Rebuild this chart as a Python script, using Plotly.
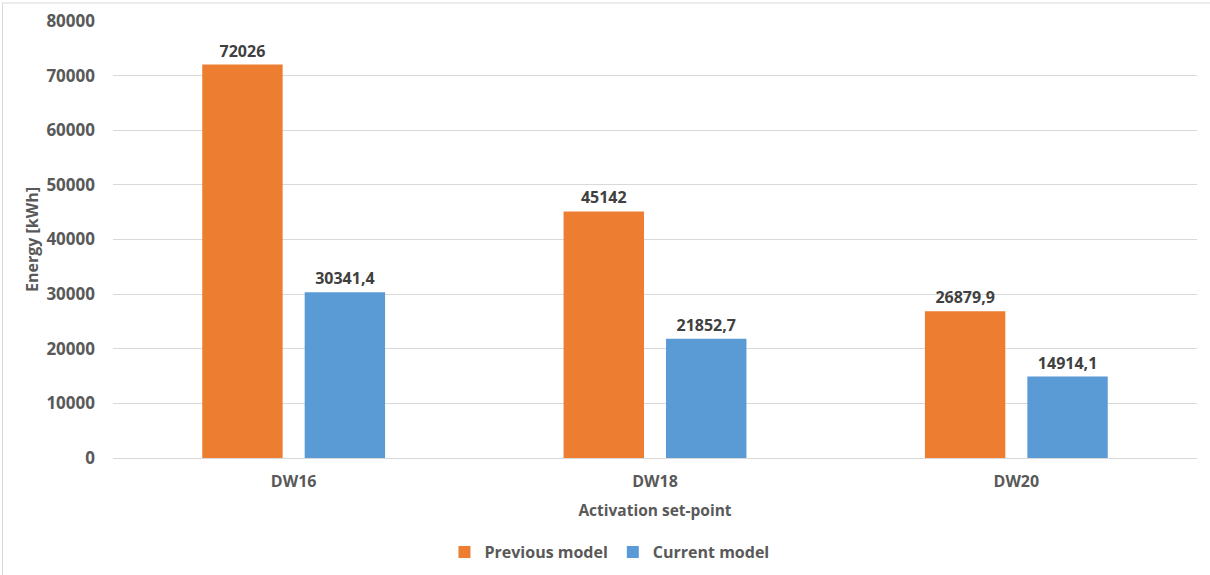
import plotly.graph_objects as go

# Energy use per activation set-point, two model versions
categories = ["DW16", "DW18", "DW20"]
previous_model = [72026, 45142, 26879.9]
current_model = [30341.4, 21852.7, 14914.1]
y_ticks = [0, 10000, 20000, 30000, 40000, 50000, 60000, 70000, 80000]


def fmt(v):
    # decimal comma, no thousands grouping
    return str(v).replace(".", ",")


W, H = 1210, 575
ML, MR, MT, MB = 113, 13, 21, 117
FONT = "Open Sans, Noto Sans, sans-serif"
GREY = "#595959"

fig = go.Figure()
fig.add_trace(go.Bar(
    name="Previous model", x=categories, y=previous_model,
    marker=dict(color="#ED7D31", line=dict(width=0)),
    text=[fmt(v) for v in previous_model], textposition="outside",
    textfont=dict(family=FONT, size=16, color="#404040", weight="bold"),
    cliponaxis=False,
))
fig.add_trace(go.Bar(
    name="Current model", x=categories, y=current_model,
    marker=dict(color="#5B9BD5", line=dict(width=0)),
    text=[fmt(v) for v in current_model], textposition="outside",
    textfont=dict(family=FONT, size=16, color="#404040", weight="bold"),
    cliponaxis=False,
))

pw = W - ML - MR
ph = H - MT - MB

fig.update_layout(
    width=W, height=H,
    margin=dict(l=ML, r=MR, t=MT, b=MB, autoexpand=False),
    paper_bgcolor="white", plot_bgcolor="white",
    barmode="group", bargap=0.433, bargroupgap=0.215,
    font=dict(family=FONT, color=GREY),
    showlegend=True,
    legend=dict(
        orientation="h", x=0.458, xanchor="center", y=-(552 - 458) / ph, yanchor="middle",
        font=dict(family=FONT, size=16, color=GREY, weight="bold"),
        itemwidth=30, traceorder="normal",
    ),
    xaxis=dict(
        automargin=False,
        showgrid=False, showline=True, linecolor="#D9D9D9", linewidth=1,
        ticks="", ticklabelstandoff=9,
        tickfont=dict(family=FONT, size=16, color=GREY, weight="bold"),
        title=dict(text="Activation set-point", standoff=13,
                   font=dict(family=FONT, size=15.5, color=GREY, weight="bold")),
    ),
    yaxis=dict(
        automargin=False,
        range=[0, 80000], tickvals=y_ticks, tickformat="d",
        showgrid=True, gridcolor="#D9D9D9", gridwidth=1,
        zeroline=False, showline=False, ticks="",
        tickfont=dict(family=FONT, size=17, color=GREY, weight="bold"),
        ticklabelstandoff=17,
        title=dict(text="Energy [kWh]", standoff=3,
                   font=dict(family=FONT, size=16, color=GREY, weight="bold")),
    ),
    shapes=[
        # outer chart frame (left and top edges visible)
        dict(type="line", xref="paper", yref="paper",
             x0=(2.5 - ML) / pw, x1=(2.5 - ML) / pw,
             y0=1 + (MT - 3) / ph, y1=-(H - MT - ph + 10) / ph,
             line=dict(color="#D9D9D9", width=1)),
        dict(type="line", xref="paper", yref="paper",
             x0=(2.5 - ML) / pw, x1=(W + 10 - ML) / pw,
             y0=1 + (MT - 3) / ph, y1=1 + (MT - 3) / ph,
             line=dict(color="#D9D9D9", width=1)),
    ],
)

fig.write_html("out.html")
